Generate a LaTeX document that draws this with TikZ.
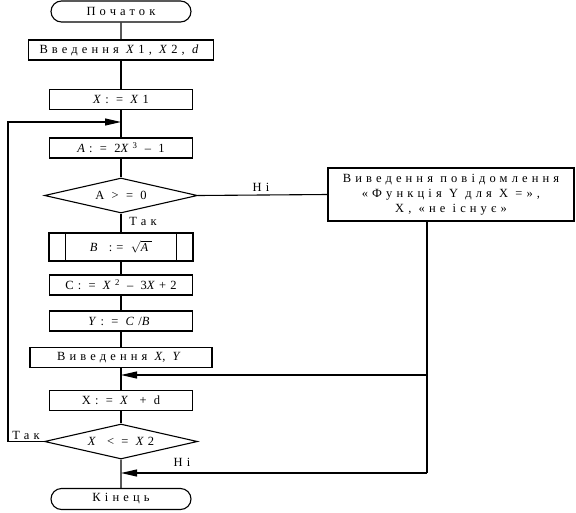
\documentclass[tikz,border=0pt]{standalone}
\usepackage{fontspec}
\setmainfont{Liberation Serif}[LetterSpace=33]
\usetikzlibrary{shapes.geometric,shapes.misc,arrows.meta}

\begin{document}
\begin{tikzpicture}[x=1pt,y=-1pt,line width=1.1pt,
    every node/.style={font={\fontsize{12.5}{15}\selectfont}},
    term/.style={draw,rounded rectangle,minimum width=140pt,
        minimum height=21pt,inner sep=0pt},
    block/.style={draw,rectangle,minimum width=143pt,
        minimum height=20pt,inner sep=0pt},
    cond/.style={draw,diamond,aspect=4,minimum width=153pt,
        minimum height=35pt,inner sep=0pt},
    subr/.style={block,minimum width=144pt,minimum height=28pt},
    flow/.style={-{Triangle[length=16pt,width=7pt]}},
    answer/.style={inner sep=0pt},
    ]
    \useasboundingbox (0,0) rectangle (576,512);
    % Main column
    \node[term]  (start) at (121,11.5) {Початок};
    \node[block,minimum width=185pt] (in) at (121,50)
        {Введення \textit{X}1, \textit{X}2, \textit{d}};
    \node[block] (x1) at (121,99.5) {\textit{X}: =  \textit{X}1};
    \node[block] (a)  at (121,148) {\textit{A}: =  2\textit{X}\textsuperscript{3} – 1};
    \node[cond]  (d1) at (121,195.5) {A > = 0};
    \node[subr]  (b)  at (121,247) {\textit{B} :=  \large$\sqrt{\mbox{\textit{A}}}$};
    \draw ([xshift=17pt]b.north west) -- ([xshift=17pt]b.south west);
    \draw ([xshift=-17pt]b.north east) -- ([xshift=-17pt]b.south east);
    \node[block] (c)  at (121,285) {С: =  \textit{X}\textsuperscript{2} – 3\textit{X}+2};
    \node[block] (y)  at (121,321) {\textit{Y}: =  \textit{C}/\textit{B}};
    \node[block,minimum width=182pt] (out) at (121,357.5)
        {Виведення \textit{X}, \textit{Y}};
    \node[block] (xd) at (121,400.5) {X: =  \textit{X} + d};
    \node[cond]  (d2) at (121,441.5) {\textit{X} < = \textit{X}2};
    \node[term]  (end) at (121,499) {Кінець};
    % Message box
    \node[draw,rectangle,minimum width=246pt,minimum height=53pt,
        inner sep=0pt,align=center] (msg) at (451,194.5)
        {Виведення повідомлення\\«Функція Y для X =»,\\X, «не існує»};

    % Helper points
    \coordinate (m0) at (121,122);
    \coordinate (m1) at (121,375);
    \coordinate (m2) at (121,473);
    \coordinate (l0) at (8,122);
    \coordinate (r1) at (427,375);
    \coordinate (r2) at (427,473);

    % Connectors
    \draw (start) -- (in);
    \draw (in) -- (x1);
    \draw (x1) -- (a);
    \draw (a) -- (d1);
    \draw (d1) -- (b);
    \draw (b) -- (c);
    \draw (c) -- (y);
    \draw (y) -- (out);
    \draw (out) -- (xd);
    \draw (xd) -- (d2);
    \draw (d2) -- (end);
    \draw (d1.east) -- (msg.west);
    \draw (msg.south -| r1) -- (r1) -- (r2);
    \draw[flow] (r1) -- (m1);
    \draw[flow] (r2) -- (m2);
    \draw[flow] (d2.west) -- (d2.west -| l0) -- (l0) -- (m0);

    % Answers
    \node[answer] at (143,221) {Так};
    \node[answer] at (261,187) {Ні};
    \node[answer] at (26,435) {Так};
    \node[answer] at (182,462) {Ні};
\end{tikzpicture}
\end{document}
